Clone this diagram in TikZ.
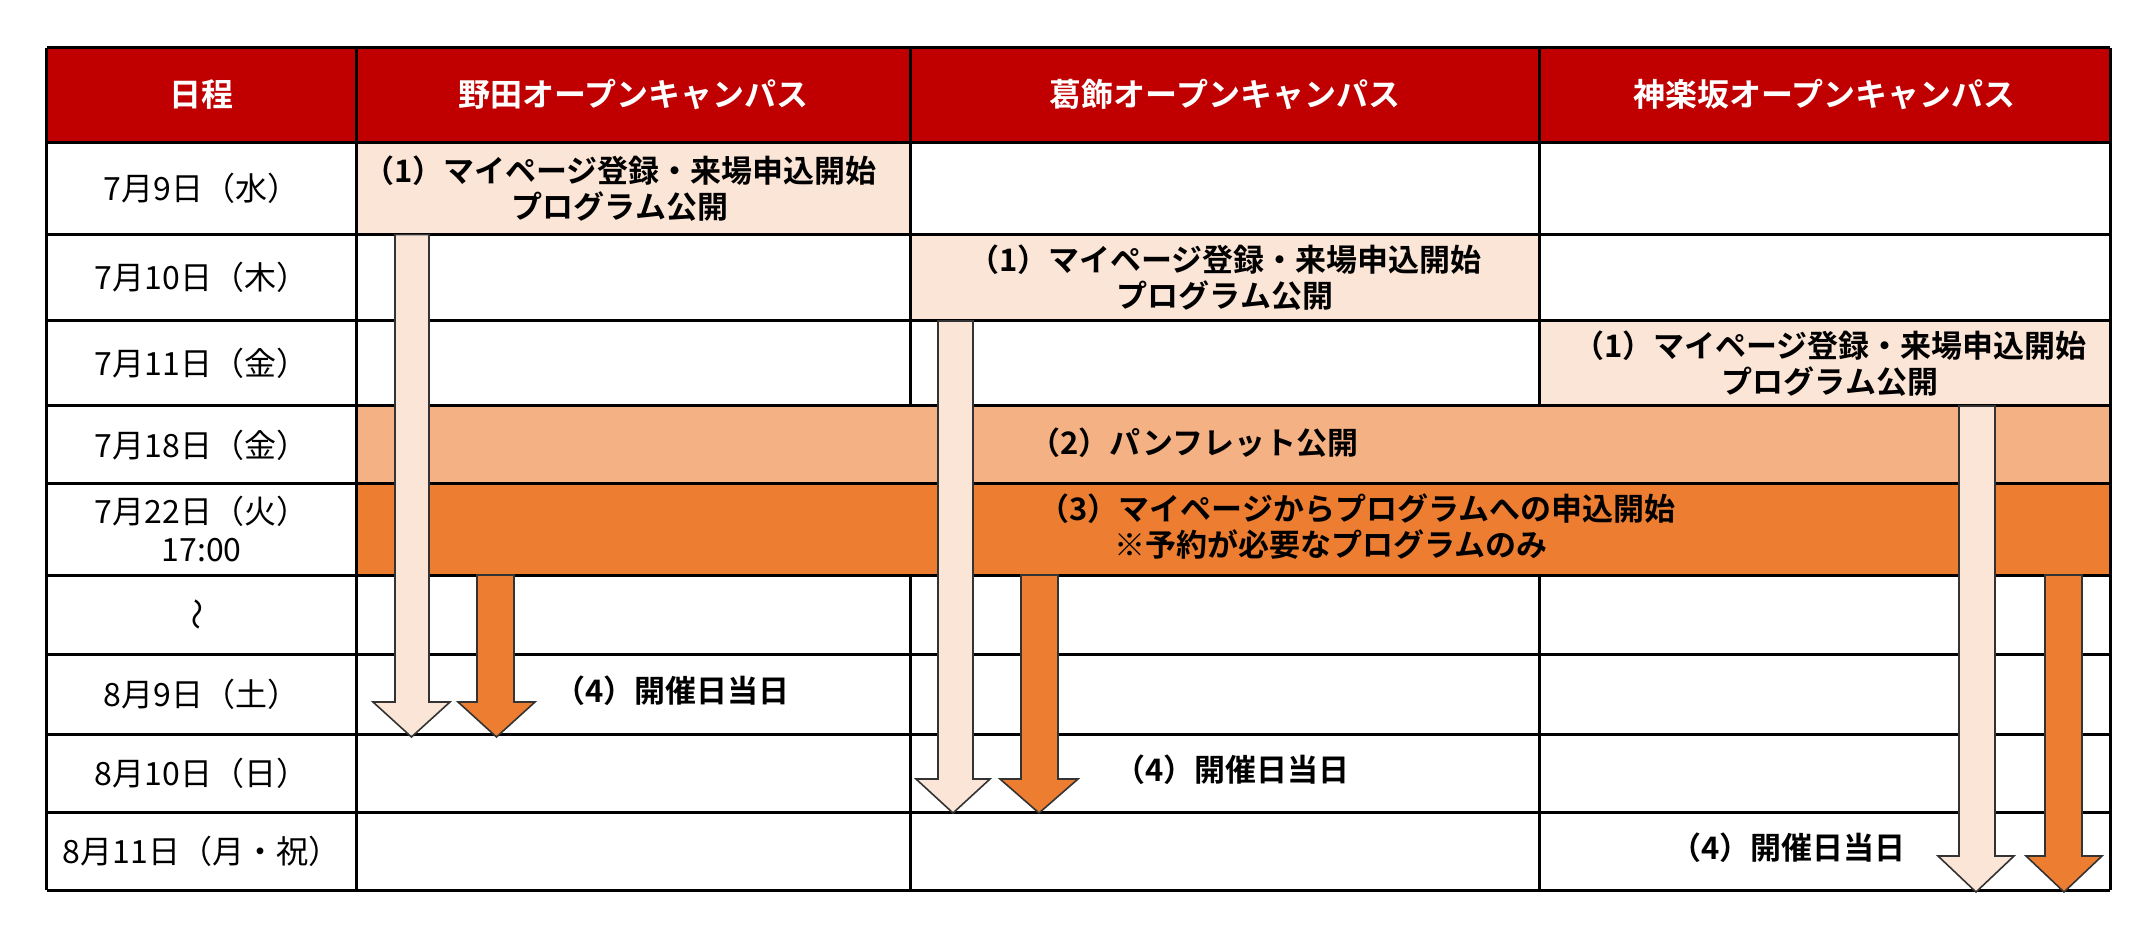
\documentclass[tikz,border=0pt]{standalone}
\usepackage{fontspec}
\setmainfont{Noto Sans CJK JP}
\newfontfamily\jpb{Noto Sans CJK JP Bold}
\definecolor{hdr}{HTML}{C00000}
\definecolor{peach}{HTML}{FBE5D6}
\definecolor{mid}{HTML}{F4B183}
\definecolor{org}{HTML}{ED7D31}
\tikzset{
 grid/.style={line width=1.5pt,black},
 hd/.style={text=white,font=\jpb\fontsize{16}{19}\selectfont},
 dt/.style={font=\fontsize{16}{19}\selectfont,align=center},
 bt/.style={font=\jpb\fontsize{15.5}{18}\selectfont,align=center},
 arrL/.style={fill=peach,draw=black!80,line width=0.8pt},
 arrD/.style={fill=org,draw=black!80,line width=0.8pt},
}
\begin{document}
\begin{tikzpicture}[x=0.5pt,y=-0.5pt]
\useasboundingbox (0,0) rectangle (2151,940);
\def\L{46.6}\def\A{356.7}\def\B{910.9}\def\C{1539.2}\def\R{2110}
% fills
\fill[hdr] (\L,48) rectangle (\R,142.7);
\fill[peach] (\A,142.7) rectangle (\B,234.6);
\fill[peach] (\B,234.6) rectangle (\C,321);
\fill[peach] (\C,321) rectangle (\R,406);
\fill[mid] (\A,406) rectangle (\R,484);
\fill[org] (\A,484) rectangle (\R,575);
% grid
\foreach \y in {48,142.7,234.6,321,406,484,575,654,734,812,890}
  \draw[grid] (\L,\y) -- (\R,\y);
\foreach \x in {\L,\A,\R} \draw[grid] (\x,48) -- (\x,890);
\foreach \x in {\B,\C} {\draw[grid] (\x,48) -- (\x,406); \draw[grid] (\x,575) -- (\x,890);}
% arrows
\draw[arrL] (395,234.6) -- (429,234.6) -- (429,702) -- (450,702) -- (411.5,737) -- (373,702) -- (395,702) -- cycle;
\draw[arrD] (477,575) -- (514,575) -- (514,702) -- (535,702) -- (496.5,737) -- (458,702) -- (477,702) -- cycle;
\draw[arrL] (938,321) -- (973,321) -- (973,779) -- (990,779) -- (953,813) -- (916,779) -- (938,779) -- cycle;
\draw[arrD] (1021,575) -- (1058,575) -- (1058,779) -- (1078,779) -- (1039,813) -- (1000,779) -- (1021,779) -- cycle;
\draw[arrL] (1959,406) -- (1995,406) -- (1995,856) -- (2014,856) -- (1976,892) -- (1938,856) -- (1959,856) -- cycle;
\draw[arrD] (2045,575) -- (2082,575) -- (2082,856) -- (2102,856) -- (2064,892) -- (2026,856) -- (2045,856) -- cycle;
% header
\node[hd] (h0) at (201.6,95) {日程};
\node[hd] (h1) at (633.8,95) {野田オープンキャンパス};
\node[hd] (h2) at (1225,95) {葛飾オープンキャンパス};
\node[hd] (h3) at (1824.6,95) {神楽坂オープンキャンパス};
% dates
\node[dt] (d1) at (201.6,188.6) {7月9日（水）};
\node[dt] (d2) at (201.6,277.8) {7月10日（木）};
\node[dt] (d3) at (201.6,363.5) {7月11日（金）};
\node[dt] (d4) at (201.6,445) {7月18日（金）};
\node[dt] (d5) at (201.6,529.5) {7月22日（火）\\17:00};
\node[dt,rotate=90] (d6) at (201.6,614.5) {〜};
\node[dt] (d7) at (201.6,694) {8月9日（土）};
\node[dt] (d8) at (201.6,773) {8月10日（日）};
\node[dt] (d9) at (201.6,851) {8月11日（月・祝）};
% events
\node[bt] (e1a) at (620,188.6) {（1）マイページ登録・来場申込開始\\プログラム公開};
\node[bt] (e1b) at (1225,277.8) {（1）マイページ登録・来場申込開始\\プログラム公開};
\node[bt] (e1c) at (1830,363.5) {（1）マイページ登録・来場申込開始\\プログラム公開};
\node[bt] (e2) at (1194,443) {（2）パンフレット公開};
\node[bt,anchor=west,inner sep=0] (e3a) at (1038,509) {（3）マイページからプログラムへの申込開始};
\node[bt,anchor=west,inner sep=0] (e3b) at (1114,545) {※予約が必要なプログラムのみ};
\node[bt] (e4a) at (672,691) {（4）開催日当日};
\node[bt] (e4b) at (1232,770) {（4）開催日当日};
\node[bt] (e4c) at (1788,848) {（4）開催日当日};
\end{tikzpicture}
\end{document}
